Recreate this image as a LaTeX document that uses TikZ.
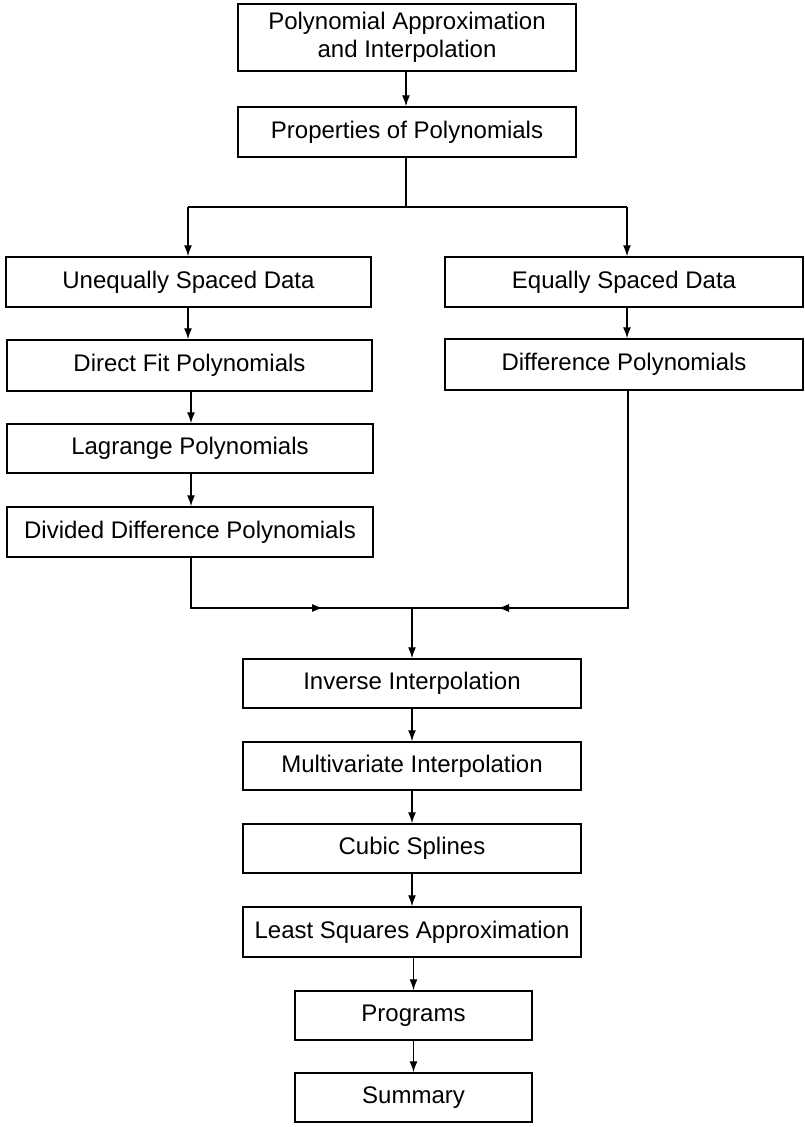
\documentclass[tikz,border=0pt]{standalone}
\usepackage{fontspec}
\setmainfont{Liberation Sans}
\usetikzlibrary{arrows.meta}
\tikzset{
  box/.style={draw=black, line width=1.5pt, rectangle, inner sep=0pt, align=center,
    font=\fontsize{24}{28.5}\selectfont},
  arr/.style={line width=1.3pt, -{Latex[length=11pt,width=8pt]}},
  ln/.style={line width=1.3pt},
}
\begin{document}
\begin{tikzpicture}[x=1pt,y=-1pt]
\useasboundingbox (0,0) rectangle (804,1127);
\node[box, minimum width=338pt, minimum height=67pt] (poly) at (407,37.5) {Polynomial Approximation\\and Interpolation};
\node[box, minimum width=338pt, minimum height=50pt] (props) at (407,132) {Properties of Polynomials};
\node[box, minimum width=365pt, minimum height=50pt] (uneq) at (188.5,282) {Unequally Spaced Data};
\node[box, minimum width=358pt, minimum height=50pt] (equal) at (624,282) {Equally Spaced Data};
\node[box, minimum width=365pt, minimum height=51pt] (direct) at (189.5,365.5) {Direct Fit Polynomials};
\node[box, minimum width=358pt, minimum height=51pt] (diff) at (624,364.5) {Difference Polynomials};
\node[box, minimum width=366pt, minimum height=49pt] (lagr) at (190,448.5) {Lagrange Polynomials};
\node[box, minimum width=366pt, minimum height=50pt] (divd) at (190,532) {Divided Difference Polynomials};
\node[box, minimum width=338pt, minimum height=49pt] (inv) at (412,683.5) {Inverse Interpolation};
\node[box, minimum width=338pt, minimum height=48pt] (multi) at (412,766) {Multivariate Interpolation};
\node[box, minimum width=338pt, minimum height=49pt] (cubic) at (412,848.5) {Cubic Splines};
\node[box, minimum width=338pt, minimum height=50pt] (least) at (412,932) {Least Squares Approximation};
\node[box, minimum width=237pt, minimum height=49pt] (prog) at (413.5,1015.5) {Programs};
\node[box, minimum width=237pt, minimum height=49pt] (summ) at (413.5,1097.5) {Summary};
% split
\coordinate (split) at (406,207);
\coordinate (sL) at (188,207);
\coordinate (sR) at (627,207);
% merge
\coordinate (mL) at (191,608);
\coordinate (mR) at (628,608);
\coordinate (mC) at (412,608);
\coordinate (aL) at (323,608);
\coordinate (aR) at (498,608);
\draw[arr] (poly.south -| split) -- (props.north -| split);
\draw[ln] (props.south -| split) -- (split);
\draw[ln] (sL) -- (sR);
\draw[arr] (sL) -- (uneq.north -| sL);
\draw[arr] (sR) -- (equal.north -| sR);
\draw[arr] (uneq.south -| sL) -- (direct.north -| sL);
\draw[arr] (equal.south -| sR) -- (diff.north -| sR);
\draw[arr] (direct.south -| mL) -- (lagr.north -| mL);
\draw[arr] (lagr.south -| mL) -- (divd.north -| mL);
\draw[ln] (divd.south -| mL) -- (mL) -- (mR) -- (diff.south -| mR);
\draw[arr] (mL) -- (aL);
\draw[arr] (mR) -- (aR);
\draw[arr] (mC) -- (inv.north -| mC);
\draw[arr] (inv) -- (multi);
\draw[arr] (multi) -- (cubic);
\draw[arr] (cubic) -- (least);
\draw[arr] (least.south -| prog) -- (prog);
\draw[arr] (prog) -- (summ);
\end{tikzpicture}
\end{document}
